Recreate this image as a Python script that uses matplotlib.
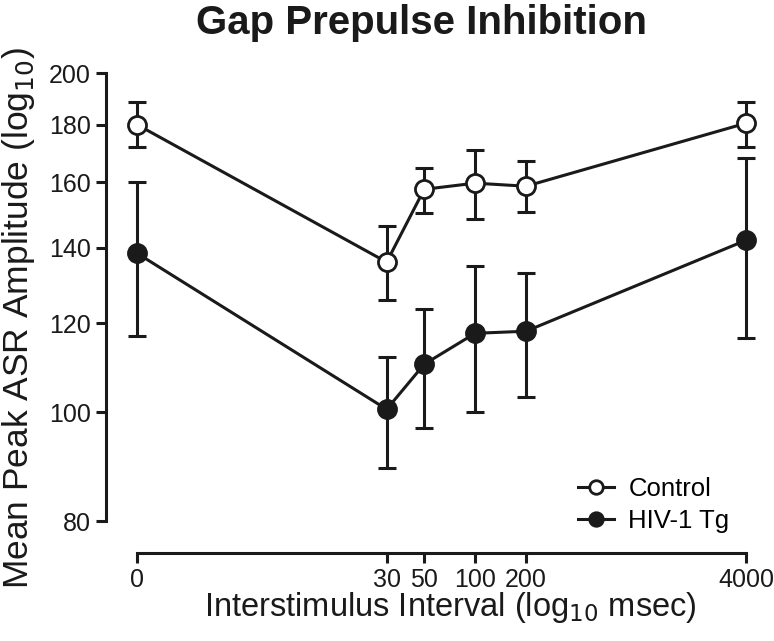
import numpy as np
import matplotlib.pyplot as plt

# Données
intervals = [0, 30, 50, 100, 200, 4000]
tick_labels = ['0', '30', '50', '100', '200', '4000']

ctrl_mean = [180.0, 135.9, 157.7, 159.7, 158.7, 180.5]
ctrl_lo = [172.0, 125.7, 150.2, 148.4, 150.5, 172.0]
ctrl_hi = [188.5, 146.3, 164.7, 170.9, 167.1, 188.5]

hiv_mean = [138.4, 100.6, 110.3, 117.5, 118.0, 142.1]
hiv_lo = [116.8, 89.3, 96.9, 100.0, 103.1, 116.3]
hiv_hi = [160.0, 111.9, 123.4, 134.8, 132.9, 168.1]

y_ticks = [80, 100, 120, 140, 160, 180, 200]

plt.rcParams['font.family'] = ['Liberation Sans', 'DejaVu Sans']
ink = '#1a1a1a'

# 0 msec est placé à 10^0 sur l'axe log
x = np.maximum(np.array(intervals, dtype=float), 1.0)

fig = plt.figure(figsize=(7.74, 6.41), dpi=100)
ax = fig.add_axes([106 / 774, 88 / 641, 654 / 774, 493 / 641])

def draw(mean, lo, hi, face, label):
    mean = np.array(mean)
    yerr = [mean - np.array(lo), np.array(hi) - mean]
    ax.errorbar(x, mean, yerr=yerr, fmt='none', ecolor=ink, elinewidth=2.2,
                capsize=6.5, capthick=2.2, zorder=2)
    ax.plot(x, mean, '-o', color=ink, lw=2.2, ms=13, mfc=face, mec=ink,
            mew=2.0, label=label, zorder=3)

draw(ctrl_mean, ctrl_lo, ctrl_hi, 'white', 'Control')
draw(hiv_mean, hiv_lo, hiv_hi, ink, 'HIV-1 Tg')

ax.set_xscale('log')
ax.set_yscale('log')
ax.set_xlim(0.656, 4846)
ax.set_ylim(75.0, 205.4)

ax.set_xticks(x)
ax.set_xticklabels(tick_labels)
ax.xaxis.set_minor_locator(plt.NullLocator())
ax.set_yticks(y_ticks)
ax.set_yticklabels([str(v) for v in y_ticks])
ax.yaxis.set_minor_locator(plt.NullLocator())

for s in ['top', 'right']:
    ax.spines[s].set_visible(False)
for s in ['left', 'bottom']:
    ax.spines[s].set_linewidth(2.2)
    ax.spines[s].set_color(ink)
ax.spines['left'].set_bounds(80, 200)
ax.spines['bottom'].set_bounds(1, 4000)
ax.tick_params(axis='both', length=7, width=2.2, color=ink, labelsize=18,
               labelcolor=ink, pad=4)

ax.set_xlabel('Interstimulus Interval (log$_{10}$ msec)', fontsize=23.5, color=ink)
ax.xaxis.set_label_coords((450 - 106) / 654, -(590 - 553) / 493)
ax.set_ylabel('Mean Peak ASR Amplitude (log$_{10}$)', fontsize=25.5, color=ink)
ax.yaxis.set_label_coords((37 - 106) / 654, (553 - 318) / 493)

fig.text(421 / 774, 1 - 4 / 641, 'Gap Prepulse Inhibition', ha='center', va='top',
         fontsize=29, fontweight='bold', color=ink)

ax.legend(loc='center left', bbox_to_anchor=((568 - 106) / 654, (553 - 505) / 493),
          frameon=False, fontsize=18.5, handlelength=1.4, handletextpad=0.55,
          labelspacing=0.3, markerscale=0.75, borderaxespad=0)

fig.savefig('out.png', dpi=100)
